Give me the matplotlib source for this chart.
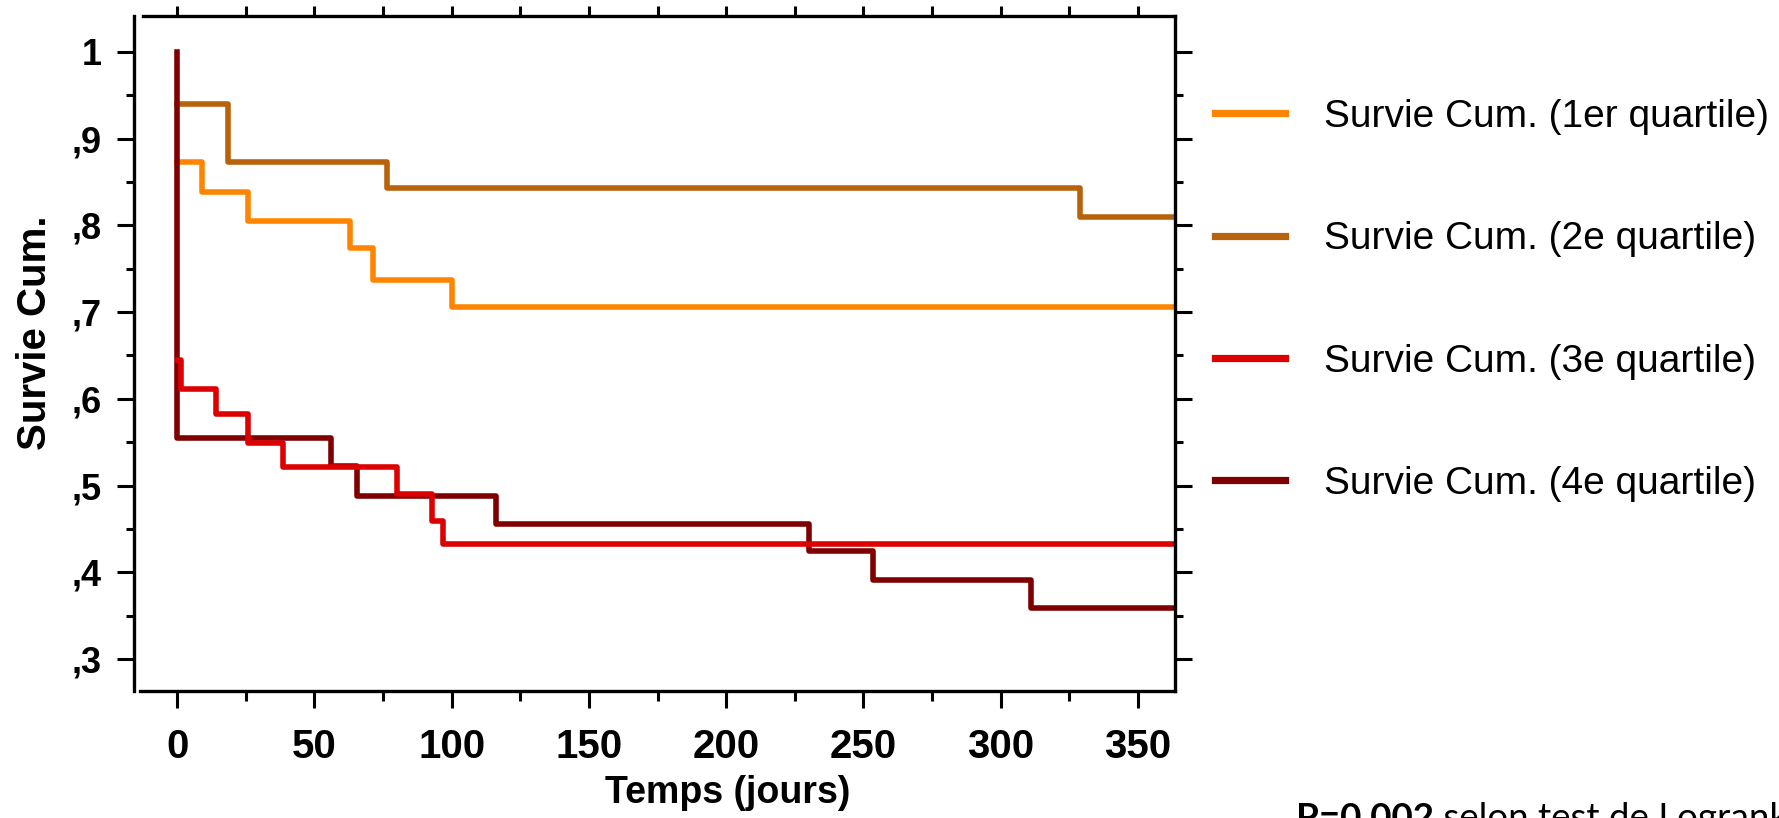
'''
Courbes de survie Kaplan-Meier par quartile
'''

# Imports
import matplotlib
matplotlib.use('Agg')
import matplotlib.pyplot as plt
from matplotlib.ticker import MultipleLocator

# Data
t_q1 = [0, 9, 26, 63, 71.5, 100, 365]
s_q1 = [0.873, 0.839, 0.805, 0.774, 0.737, 0.706, 0.706]

t_q2 = [0, 18.6, 76.5, 329, 365]
s_q2 = [0.940, 0.873, 0.843, 0.810, 0.810]

t_q3 = [0.5, 1.5, 14, 26, 38.6, 80, 93, 97, 365]
s_q3 = [0.645, 0.611, 0.583, 0.549, 0.521, 0.490, 0.459, 0.432, 0.432]

t_q4 = [0, 0, 56, 65.5, 116, 230, 253.5, 311, 365]
s_q4 = [1.0, 0.555, 0.522, 0.488, 0.456, 0.424, 0.391, 0.359, 0.359]

labels = ['Survie Cum. (1er quartile)', 'Survie Cum. (2e quartile)',
          'Survie Cum. (3e quartile)', 'Survie Cum. (4e quartile)']
colors = ['#FF8400', '#B8620C', '#DC0000', '#7E0000']

x_ticks = [0, 50, 100, 150, 200, 250, 300, 350]
y_ticks = [0.3, 0.4, 0.5, 0.6, 0.7, 0.8, 0.9, 1.0]
y_ticklabels = [',3', ',4', ',5', ',6', ',7', ',8', ',9', '1']

# Figure
plt.rcParams['font.family'] = ['Liberation Sans', 'DejaVu Sans']
W, H = 1779, 818
fig = plt.figure(figsize=(W / 100, H / 100), dpi=100)
ax = fig.add_axes([134 / W, 1 - 691 / H, (1175 - 134) / W, (691 - 16) / H])

series = [(t_q1, s_q1), (t_q2, s_q2), (t_q4, s_q4), (t_q3, s_q3)]
order = [0, 1, 3, 2]
handles = {}
for (t, s), i in zip(series, order):
    ln, = ax.plot(t, s, drawstyle='steps-post', color=colors[i], lw=4.0, label=labels[i])
    handles[i] = ln

ax.set_xlim(-15.7, 363.5)
ax.set_ylim(0.263, 1.0415)

# Axes styling
for sp in ax.spines.values():
    sp.set_linewidth(2.4)
ax.spines['bottom'].set_bounds(-13.5, 363.5)
ax.spines['top'].set_bounds(-12.5, 363.5)

ax.set_xticks(x_ticks)
ax.xaxis.set_minor_locator(MultipleLocator(25))
ax.set_yticks(y_ticks)
ax.set_yticklabels(y_ticklabels)
ax.yaxis.set_minor_locator(MultipleLocator(0.05))

ax.tick_params(axis='x', which='major', length=12, width=2.2, direction='out', pad=15, labelsize=29)
ax.tick_params(axis='x', which='minor', length=7, width=2.2, direction='out')
ax.tick_params(axis='y', which='major', length=12, width=2.2, direction='out', right=True, pad=11, labelsize=26)
ax.tick_params(axis='y', which='minor', length=6, width=2.2, direction='out', right=True)
for lab in ax.get_xticklabels() + ax.get_yticklabels():
    lab.set_fontweight('bold')

sec = ax.secondary_xaxis('top')
sec.xaxis.set_major_locator(MultipleLocator(25))
sec.tick_params(length=7, width=2.2, direction='out', labeltop=False)
sec.spines['top'].set_visible(False)

# Axis titles
ax.text(0.570, -0.151, 'Temps (jours)', transform=ax.transAxes, ha='center', va='center',
        fontsize=27, fontweight='bold')
ax.text(-0.095, 0.53, 'Survie Cum.', transform=ax.transAxes, ha='center', va='center',
        rotation=90, fontsize=29, fontweight='bold')

# Legend
leg = fig.legend([handles[i] for i in range(4)], labels, loc='upper left',
                 bbox_to_anchor=(1180 / W, 1 - 64 / H), frameon=False, fontsize=28,
                 handlelength=1.8, handletextpad=1.0, labelspacing=2.22)
for ln in leg.get_lines():
    ln.set_linewidth(5.2)

# Logrank note (cut by the bottom edge, as in the source)
t1 = fig.text(1296 / W, 1 - 829 / H, 'P=0.002', family=['Lato', 'DejaVu Sans'],
              fontsize=26.5, fontweight='bold', va='baseline', ha='left')
fig.canvas.draw()
bb = t1.get_window_extent()
fig.text(bb.x1 / W, 1 - 829 / H, ' selon test de Logrank', family=['Lato', 'DejaVu Sans'],
         fontsize=26.5, va='baseline', ha='left')

fig.savefig('out.png', dpi=100)
